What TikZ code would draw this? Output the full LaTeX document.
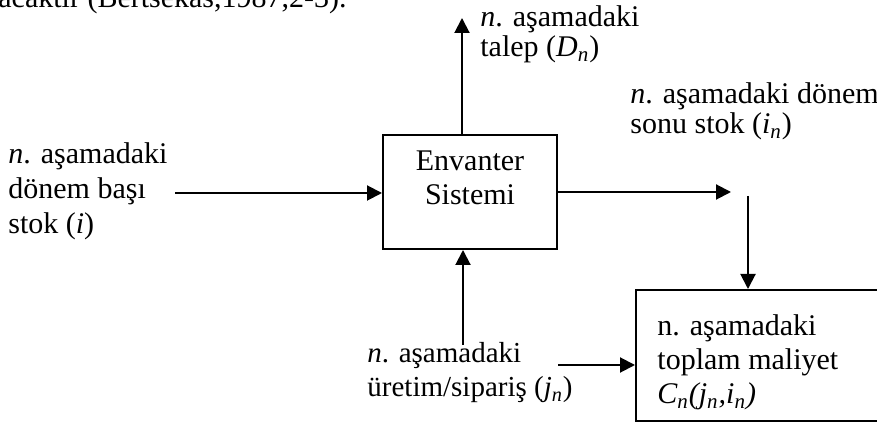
\documentclass[tikz,border=0pt]{standalone}
\usepackage{fontspec}
\setmainfont{Liberation Serif}
\usetikzlibrary{arrows.meta}
\begin{document}
\begin{tikzpicture}[x=0.5pt,y=-0.5pt,
  arr/.style={line width=1pt,-{Triangle[length=7.5pt,width=7.5pt]}},
  boxed/.style={draw,line width=1pt,inner sep=0pt},
  txt/.style={inner sep=0pt,align=left,anchor=base west,font=\fontsize{15}{17}\selectfont}]
\useasboundingbox (0,0) rectangle (877,426);
% partly cut line of surrounding text
\node[txt,anchor=base east] (cut) at (347,8) {olacaktır (Bertsekas,1987,2-3).};
% boxes
\node[boxed,minimum width=87pt,minimum height=57pt] (env) at (470,192) {};
\node[txt,align=center,anchor=base] (envt) at (470,205) {Envanter\\Sistemi};
\node[boxed,anchor=north west,minimum width=125pt,minimum height=65.5pt] (cost) at (635,289) {};
% labels
\node[txt,font=\fontsize{15}{17.5}\selectfont] (left) at (8,234) {\textit{n}. aşamadaki\\dönem başı\\stok (\textit{i})};
\node[txt,font=\fontsize{15}{15}\selectfont] (top) at (480,57) {\textit{n}. aşamadaki\\talep (\textit{D\textsubscript{n}})};
\node[txt,font=\fontsize{15}{15}\selectfont] (right) at (630,134) {\textit{n}. aşamadaki dönem\\sonu stok (\textit{i\textsubscript{n}})};
\node[txt,font=\fontsize{14.5}{17}\selectfont] (bottom) at (367,397) {\textit{n}. aşamadaki\\üretim/sipariş (\textit{j\textsubscript{n}})};
\node[txt,font=\fontsize{15}{17}\selectfont] (costt) at (657,404) {n. aşamadaki\\toplam maliyet\\\textit{C\textsubscript{n}(j\textsubscript{n},i\textsubscript{n})}};
% connector ends
\coordinate (topend) at (462,18);
\coordinate (lstart) at (175,193);
\coordinate (rend) at (731,192);
\coordinate (vstart) at (748,196);
\coordinate (bstart) at (463,345);
\coordinate (brstart) at (558,365);
% connectors
\draw[arr] (env.north -| topend) -- (topend);
\draw[arr] (lstart) -- (lstart -| env.west);
\draw[arr] (rend -| env.east) -- (rend);
\draw[arr] (vstart) -- (vstart |- cost.north);
\draw[arr] (bstart) -- (bstart |- env.south);
\draw[arr] (brstart) -- (brstart -| cost.west);
\end{tikzpicture}
\end{document}
